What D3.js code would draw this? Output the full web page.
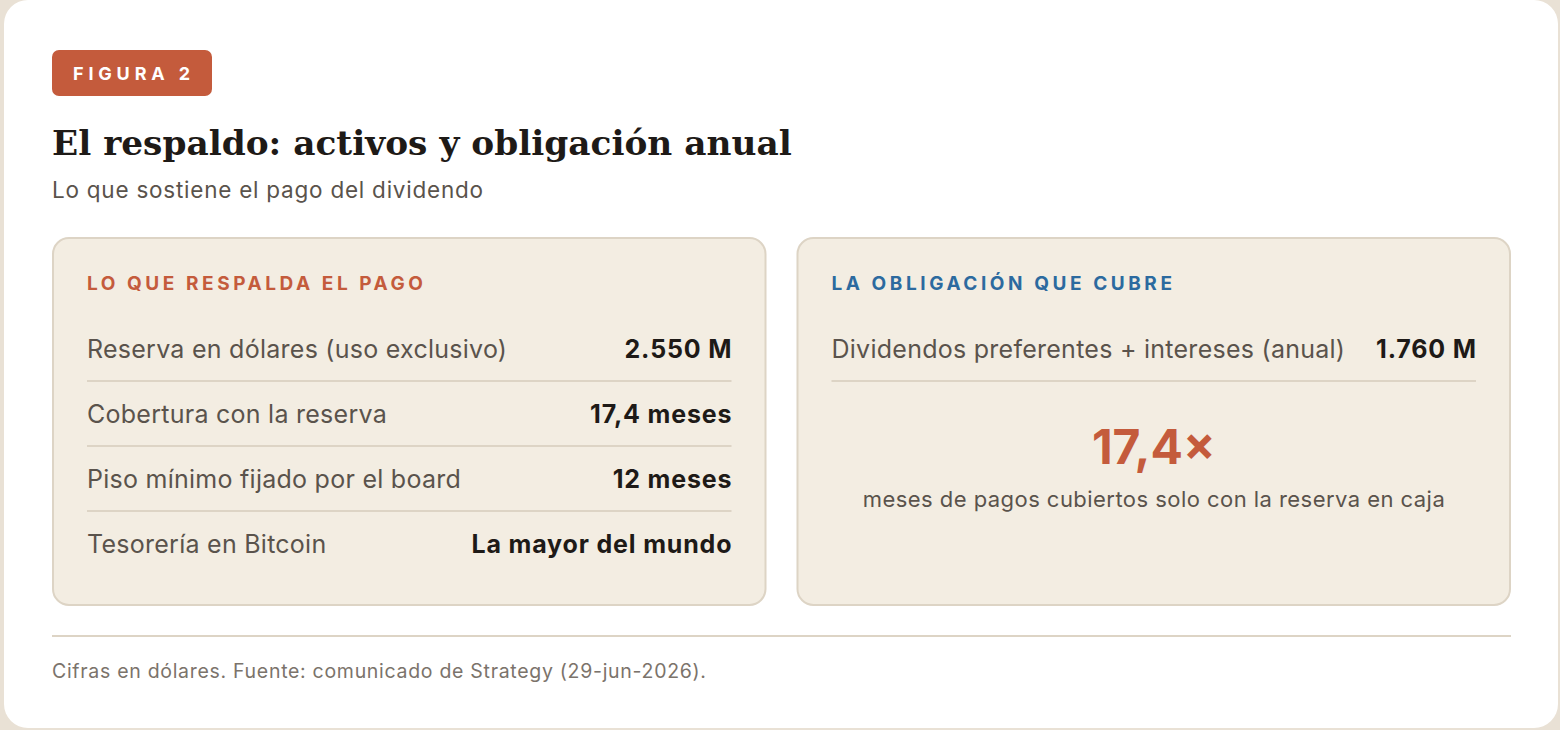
<!DOCTYPE html>
<html>
<head>
<meta charset="utf-8">
<script src="https://cdn.jsdelivr.net/npm/d3@7"></script>
<style>
  body { margin: 0; background: #e9e1d5; overflow: hidden; }
  svg { display: block; }
</style>
</head>
<body>
<div id="chart"></div>
<script>
// ---- Data ----
const figureLabel = 'FIGURA 2';
const chartTitle = 'El respaldo: activos y obligación anual';
const chartSubtitle = 'Lo que sostiene el pago del dividendo';
const panelTitles = ['LO QUE RESPALDA EL PAGO', 'LA OBLIGACIÓN QUE CUBRE'];

const assetLabels = [
    'Reserva en dólares (uso exclusivo)',
    'Cobertura con la reserva',
    'Piso mínimo fijado por el board',
    'Tesorería en Bitcoin'
];
const assetValues = ['2.550 M', '17,4 meses', '12 meses', 'La mayor del mundo'];

const obligationLabels = ['Dividendos preferentes + intereses (anual)'];
const obligationValues = ['1.760 M'];

const coverageMonths = '17,4×';
const coverageCaption = 'meses de pagos cubiertos solo con la reserva en caja';
const footnote = 'Cifras en dólares. Fuente: comunicado de Strategy (29-jun-2026).';

// ---- Colours & fonts ----
const accent = '#c45b3c';
const blue = '#2c6a9f';
const ink = '#1e1a17';
const muted = '#5a534c';
const soft = '#7b736b';
const panelFill = '#f3ede2';
const rule = '#ddd4c5';
const sans = 'Inter, "Noto Sans", sans-serif';
const serif = '"DejaVu Serif", Georgia, serif';

const width = 1560;
const height = 730;

// Inter runs a little tighter than the original system font, so open up
// the tracking until a sample string spans the width it has in the picture
function trackTo(sel, sampleWidth) {
    const node = sel.node();
    const len = node.getComputedTextLength();
    const n = node.textContent.length;
    const ls = (sampleWidth - len) / (n - 1);
    sel.style('letter-spacing', ls + 'px');
    return ls;
}

const svg = d3.select('#chart')
    .append('svg')
    .attr('width', width)
    .attr('height', height);

// white card
svg.append('rect')
    .attr('x', 4)
    .attr('y', 0)
    .attr('width', 1554)
    .attr('height', 728)
    .attr('rx', 24)
    .attr('fill', '#ffffff');

// badge
const badge = svg.append('g');
badge.append('rect')
    .attr('x', 52)
    .attr('y', 50)
    .attr('width', 160)
    .attr('height', 46)
    .attr('rx', 7)
    .attr('fill', accent);
const badgeText = badge.append('text')
    .attr('x', 73)
    .attr('y', 80)
    .attr('font-family', sans)
    .attr('font-size', 18)
    .attr('font-weight', 700)
    .attr('fill', '#ffffff')
    .text(figureLabel);
trackTo(badgeText, 117);

// title: fitted to the width of the original heading
const titleText = svg.append('text')
    .attr('x', 52)
    .attr('y', 155)
    .attr('font-family', serif)
    .attr('font-size', 34)
    .attr('font-weight', 700)
    .attr('fill', ink)
    .text(chartTitle);
const titleLen = titleText.node().getComputedTextLength();
titleText.attr('font-size', 34 * 740 / titleLen);

const sub = svg.append('text')
    .attr('x', 52)
    .attr('y', 198)
    .attr('font-family', sans)
    .attr('font-size', 22.5)
    .attr('fill', muted)
    .text(chartSubtitle);
trackTo(sub, 431);

// panels
const xPanel = d3.scaleBand()
    .domain([0, 1])
    .range([52, 1511])
    .paddingInner(30 / 745);

const panelTop = 237;
const panelBottom = 606;
const pad = 35;
const inner = xPanel.bandwidth() - pad * 2;

const panels = svg.selectAll('.panel')
    .data([0, 1])
    .enter()
    .append('g')
    .attr('class', 'panel')
    .attr('transform', d => `translate(${xPanel(d)}, ${panelTop})`);

panels.append('rect')
    .attr('x', 1)
    .attr('y', 1)
    .attr('width', xPanel.bandwidth() - 2)
    .attr('height', panelBottom - panelTop - 2)
    .attr('rx', 16)
    .attr('fill', panelFill)
    .attr('stroke', rule)
    .attr('stroke-width', 2);

const heads = panels.append('text')
    .attr('x', pad)
    .attr('y', 53)
    .attr('font-family', sans)
    .attr('font-size', 19)
    .attr('font-weight', 700)
    .attr('fill', d => d === 0 ? accent : blue)
    .text(d => panelTitles[d]);
const headLs = trackTo(heads.filter(d => d === 0), 336);
heads.style('letter-spacing', headLs + 'px');

// rows
const yRow = d3.scaleBand()
    .domain(d3.range(assetLabels.length))
    .range([78, 78 + 65 * assetLabels.length]);

let labelLs = null;
let valueLs = null;

function drawRows(panel, labels, values) {
    const rows = panel.selectAll('.row')
        .data(labels.map((l, i) => ({ label: l, value: values[i], i })))
        .enter()
        .append('g')
        .attr('class', 'row')
        .attr('transform', d => `translate(${pad}, ${yRow(d.i)})`);

    const lab = rows.append('text')
        .attr('x', 0)
        .attr('y', 43)
        .attr('font-family', sans)
        .attr('font-size', 25)
        .attr('fill', muted)
        .text(d => d.label);
    if (labelLs === null) labelLs = trackTo(lab.filter(d => d.i === 0), 420);
    lab.style('letter-spacing', labelLs + 'px');

    const val = rows.append('text')
        .attr('y', 43)
        .attr('text-anchor', 'end')
        .attr('font-family', sans)
        .attr('font-size', 25)
        .attr('font-weight', 700)
        .attr('fill', ink)
        .text(d => d.value);
    if (valueLs === null) valueLs = trackTo(val.filter(d => d.i === 3), 260);
    val.style('letter-spacing', valueLs + 'px')
        .attr('x', inner + valueLs);

    rows.filter(d => d.i < labels.length - 1 || labels.length === 1)
        .append('line')
        .attr('x1', 0)
        .attr('x2', inner)
        .attr('y1', 66)
        .attr('y2', 66)
        .attr('stroke', rule)
        .attr('stroke-width', 2);
}

drawRows(panels.filter(d => d === 0), assetLabels, assetValues);
drawRows(panels.filter(d => d === 1), obligationLabels, obligationValues);

// big coverage figure
const right = panels.filter(d => d === 1);
right.append('text')
    .attr('x', xPanel.bandwidth() / 2)
    .attr('y', 227)
    .attr('text-anchor', 'middle')
    .attr('font-family', sans)
    .attr('font-size', 48)
    .attr('font-weight', 700)
    .attr('fill', accent)
    .text(coverageMonths);

const cap = right.append('text')
    .attr('y', 270)
    .attr('text-anchor', 'middle')
    .attr('font-family', sans)
    .attr('font-size', 22)
    .attr('fill', muted)
    .text(coverageCaption);
const capLs = trackTo(cap, 582);
cap.attr('x', xPanel.bandwidth() / 2 + capLs / 2);

// footer
svg.append('line')
    .attr('x1', 52)
    .attr('x2', 1511)
    .attr('y1', 636)
    .attr('y2', 636)
    .attr('stroke', rule)
    .attr('stroke-width', 2);

const foot = svg.append('text')
    .attr('x', 52)
    .attr('y', 678)
    .attr('font-family', sans)
    .attr('font-size', 19.5)
    .attr('fill', soft)
    .text(footnote);
trackTo(foot, 654);
</script>
</body>
</html>
